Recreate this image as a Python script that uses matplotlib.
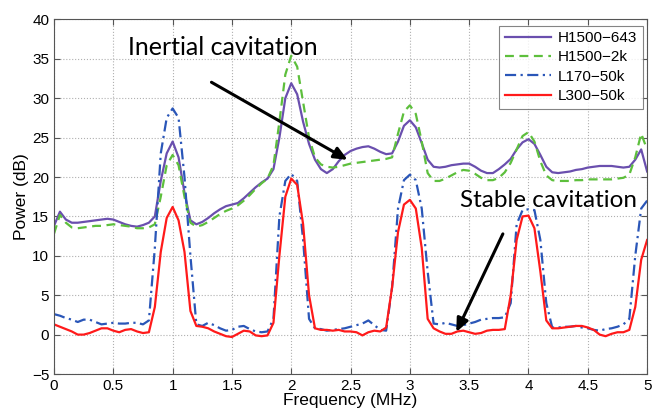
import numpy as np
import matplotlib
matplotlib.use("Agg")
import matplotlib.pyplot as plt

plt.rcParams['font.family'] = ['Liberation Sans', 'DejaVu Sans']

# frequency grid (MHz), 0.05 MHz step
freq = np.round(np.arange(0, 5.0001, 0.05), 2)

h1500_643 = [13.8, 15.6, 14.6, 14.2, 14.2, 14.3, 14.4, 14.5, 14.6, 14.7,
             14.6, 14.3, 14.0, 13.8, 13.7, 13.9, 14.2, 15.0, 19.5, 23.0,
             24.5, 22.5, 18.0, 14.5, 14.0, 14.3, 14.8, 15.4, 15.9, 16.3,
             16.5, 16.7, 17.3, 18.0, 18.7, 19.3, 19.8, 21.0, 25.0, 30.0,
             31.9, 30.5, 27.0, 24.2, 22.2, 21.0, 20.5, 21.0, 22.0, 22.8,
             23.3, 23.6, 23.8, 23.9, 23.6, 23.2, 22.9, 23.0, 24.5, 26.5,
             27.2, 26.3, 24.3, 22.2, 21.3, 21.2, 21.3, 21.5, 21.6, 21.7,
             21.7, 21.3, 20.8, 20.5, 20.5, 21.0, 21.6, 22.3, 23.5, 24.4,
             24.8, 24.2, 22.8, 21.3, 20.6, 20.5, 20.6, 20.7, 20.9, 21.0,
             21.2, 21.3, 21.4, 21.4, 21.4, 21.3, 21.2, 21.3, 22.2, 23.5,
             20.7]

h1500_2k = [12.8, 15.2, 14.2, 13.6, 13.5, 13.6, 13.7, 13.8, 13.8, 13.9,
            14.0, 13.9, 13.8, 13.7, 13.5, 13.5, 13.6, 14.0, 17.5, 21.5,
            22.8, 21.5, 17.5, 14.2, 13.7, 13.9, 14.3, 14.8, 15.3, 15.7,
            16.0, 16.4, 17.0, 17.7, 18.5, 19.2, 19.8, 21.5, 27.0, 33.0,
            35.4, 34.0, 29.5, 25.0, 22.5, 21.6, 21.3, 21.2, 21.3, 21.5,
            21.7, 21.8, 21.9, 22.0, 22.1, 22.2, 22.3, 22.5, 25.5, 28.3,
            29.1, 28.0, 24.5, 20.5, 19.5, 19.5, 19.8, 20.2, 20.6, 20.9,
            20.8, 20.4, 19.9, 19.6, 19.6, 19.9, 20.6, 21.8, 23.5, 25.2,
            25.7, 24.5, 22.0, 20.2, 19.6, 19.5, 19.5, 19.5, 19.6, 19.6,
            19.7, 19.7, 19.7, 19.7, 19.7, 19.8, 19.9, 20.3, 22.5, 25.5,
            23.5]

l170_50k = [2.6, 2.4, 2.1, 1.9, 1.6, 1.9, 1.9, 1.6, 1.3, 1.4,
            1.5, 1.4, 1.4, 1.5, 1.5, 1.3, 1.8, 11.0, 23.0, 27.5,
            28.7, 27.5, 20.0, 10.0, 1.3, 1.1, 1.5, 1.2, 0.8, 0.5,
            0.6, 1.0, 1.1, 0.7, 0.4, 0.3, 0.4, 2.0, 15.0, 19.5,
            20.4, 19.5, 12.0, 2.0, 0.8, 0.7, 0.5, 0.6, 0.7, 0.8,
            1.0, 1.2, 1.4, 1.8, 1.2, 0.6, 0.5, 6.0, 16.0, 19.6,
            20.3, 19.6, 16.0, 8.0, 1.4, 1.3, 1.5, 1.3, 1.1, 1.2,
            1.4, 1.6, 1.9, 2.0, 2.1, 2.1, 2.2, 4.0, 14.0, 15.8,
            15.9, 15.8, 12.0, 4.0, 0.9, 0.9, 1.0, 1.0, 1.1, 0.9,
            0.8, 0.6, 0.5, 0.7, 0.8, 1.0, 1.3, 2.0, 10.0, 16.0,
            17.0]

l300_50k = [1.3, 1.0, 0.7, 0.4, 0.0, 0.0, 0.2, 0.5, 0.8, 0.8,
            0.5, 0.3, 0.6, 0.7, 0.4, 0.2, 0.3, 3.5, 10.5, 14.8,
            16.2, 14.5, 10.5, 3.0, 1.1, 1.0, 0.8, 0.4, 0.1, -0.2,
            -0.3, 0.1, 0.5, 0.4, -0.1, -0.2, -0.1, 1.5, 10.0, 17.5,
            19.8, 19.0, 14.0, 5.0, 0.8, 0.6, 0.6, 0.5, 0.6, 0.4,
            0.4, 0.3, -0.1, 0.3, 0.5, 0.4, 0.9, 6.0, 13.0, 16.5,
            17.1, 16.0, 11.0, 2.0, 0.8, 0.4, 0.1, 0.1, 0.4, 0.5,
            0.3, 0.1, 0.2, 0.5, 0.6, 0.6, 0.7, 5.0, 12.0, 15.0,
            15.1, 13.5, 8.0, 1.8, 0.8, 0.8, 0.9, 1.0, 1.1, 1.1,
            0.9, 0.6, 0.0, -0.2, 0.1, 0.3, 0.3, 0.6, 3.5, 9.5,
            12.0]

fig = plt.figure(figsize=(6.53, 4.13), dpi=100)
ax = fig.add_axes([0.0827, 0.0944, 0.9083, 0.8586])

ax.plot(freq, h1500_643, '-', color='#6a4fae', lw=1.6, label='H1500\u2212643')
ax.plot(freq, h1500_2k, '--', color='#5dbf3c', lw=1.6, label='H1500\u22122k', dashes=(4, 2.5))
ax.plot(freq, l170_50k, '-.', color='#2a56b8', lw=1.6, label='L170\u221250k', dashes=(5, 2, 1, 2))
ax.plot(freq, l300_50k, '-', color='#ff1a1a', lw=1.6, label='L300\u221250k')

ax.set_xlim(0, 5)
ax.set_ylim(-5, 40)
ax.set_xticks(np.arange(0, 5.01, 0.5))
ax.set_xticklabels(['0', '0.5', '1', '1.5', '2', '2.5', '3', '3.5', '4', '4.5', '5'])
ax.set_yticks(np.arange(-5, 41, 5))
ax.tick_params(direction='in', top=True, right=True, labelsize=11, length=4, color='#555555')
ax.grid(True, linestyle=':', color='#b0b0b0', lw=0.8)
for s in ax.spines.values():
    s.set_color('#555555')

ax.set_xlabel('Frequency (MHz)', fontsize=12.5, labelpad=0)
ax.set_ylabel('Power (dB)', fontsize=12.5, labelpad=2)

leg = ax.legend(loc='upper right', bbox_to_anchor=(0.993, 0.982), fontsize=11,
                handlelength=3.0, fancybox=False, edgecolor='#666666',
                borderaxespad=0, labelspacing=0.35, handletextpad=0.5, borderpad=0.35)
leg.get_frame().set_linewidth(0.8)

ax.text(1.42, 36.4, 'Inertial cavitation', fontsize=18, family=['Lato', 'DejaVu Sans'],
        ha='center', va='center')
ax.annotate('', xy=(2.496, 22.0), xytext=(1.307, 32.2),
            arrowprops=dict(arrowstyle='-|>,head_length=0.8,head_width=0.35', color='black', lw=2.2))
ax.text(4.165, 17.0, 'Stable cavitation', fontsize=17.5, family=['Lato', 'DejaVu Sans'],
        ha='center', va='center')
ax.annotate('', xy=(3.381, 0.0), xytext=(3.794, 13.1),
            arrowprops=dict(arrowstyle='-|>,head_length=0.8,head_width=0.35', color='black', lw=2.2))

fig.savefig('out.png', dpi=100)
